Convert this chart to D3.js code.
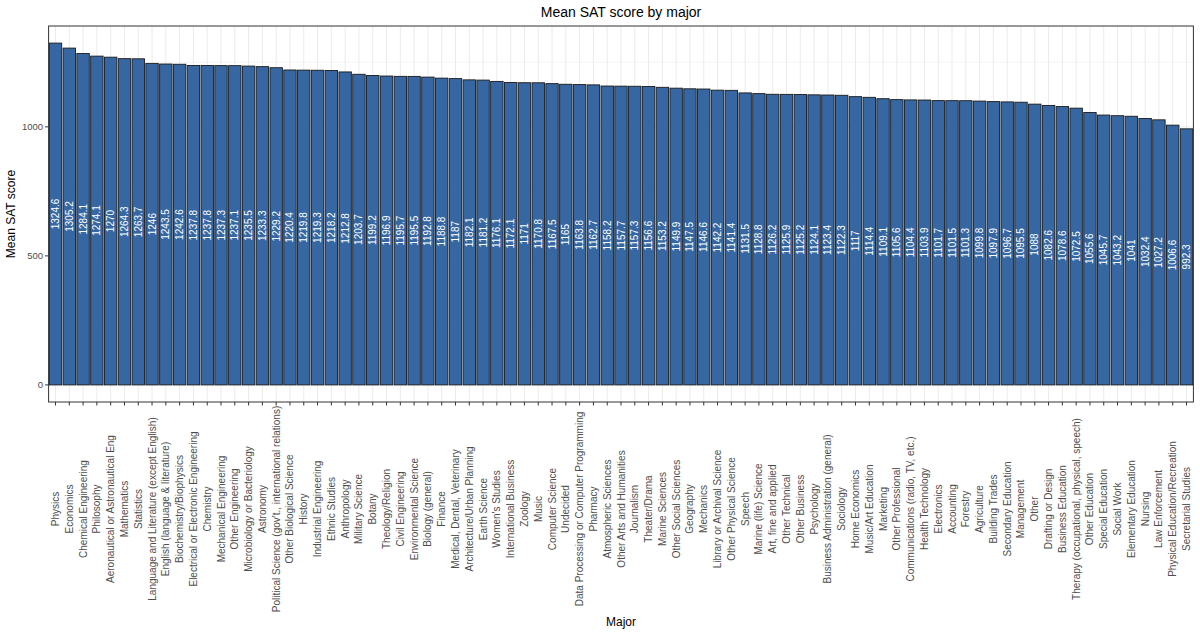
<!DOCTYPE html>
<html>
<head>
<meta charset="utf-8">
<script src="https://cdn.jsdelivr.net/npm/d3@7"></script>
<style>
  body { margin: 0; background: #fff; }
  text { font-family: "Liberation Sans", Arial, sans-serif; }
</style>
</head>
<body>
<div id="chart"></div>
<script>
// Data: majors sorted by mean SAT score
let majors = ["Physics", "Economics", "Chemical Engineering", "Philosophy", "Aeronautical or Astronautical Eng",
  "Mathematics", "Statistics", "Language and Literature (except English)", "English (language & literature)",
  "Biochemistry/Biophysics", "Electrical or Electronic Engineering", "Chemistry", "Mechanical Engineering",
  "Other Engineering", "Microbiology or Bacteriology", "Astronomy", "Political Science (gov't., international relations)",
  "Other Biological Science", "History", "Industrial Engineering", "Ethnic Studies", "Anthropology",
  "Military Science", "Botany", "Theology/Religion", "Civil Engineering", "Environmental Science",
  "Biology (general)", "Finance", "Medical, Dental, Veterinary", "Architecture/Urban Planning", "Earth Science",
  "Women's Studies", "International Business", "Zoology", "Music", "Computer Science", "Undecided",
  "Data Processing or Computer Programming", "Pharmacy", "Atmospheric Sciences", "Other Arts and Humanities",
  "Journalism", "Theater/Drama", "Marine Sciences", "Other Social Sciences", "Geography", "Mechanics",
  "Library or Archival Science", "Other Physical Science", "Speech", "Marine (life) Science",
  "Art, fine and applied", "Other Technical", "Other Business", "Psychology", "Business Administration (general)",
  "Sociology", "Home Economics", "Music/Art Education", "Marketing", "Other Professional",
  "Communications (radio, TV, etc.)", "Health Technology", "Electronics", "Accounting", "Forestry",
  "Agriculture", "Building Trades", "Secondary Education", "Management", "Other", "Drafting or Design",
  "Business Education", "Therapy (occupational, physical, speech)", "Other Education", "Special Education",
  "Social Work", "Elementary Education", "Nursing", "Law Enforcement", "Physical Education/Recreation",
  "Secretarial Studies"]

let meanSAT = [1324.6, 1305.2, 1284.1, 1274.1, 1270, 1264.3, 1263.7, 1246, 1243.5, 1242.6,
  1237.8, 1237.8, 1237.3, 1237.1, 1235.5, 1233.3, 1229.2, 1220.4, 1219.8, 1219.3,
  1218.2, 1212.8, 1203.7, 1199.2, 1196.9, 1195.7, 1195.5, 1192.8, 1188.8, 1187,
  1182.1, 1181.2, 1176.1, 1172.1, 1171, 1170.8, 1167.5, 1165, 1163.8, 1162.7,
  1158.2, 1157.7, 1157.3, 1156.6, 1153.2, 1149.9, 1147.5, 1146.6, 1142.2, 1141.4,
  1131.5, 1128.8, 1126.2, 1125.9, 1125.2, 1124.1, 1123.4, 1122.3, 1117, 1114.4,
  1109.1, 1105.6, 1104.4, 1103.9, 1101.7, 1101.5, 1101.3, 1099.8, 1097.9, 1096.7,
  1095.5, 1088, 1082.6, 1078.6, 1072.5, 1055.6, 1045.7, 1043.2, 1041, 1032.4,
  1027.2, 1006.6, 992.3]

let yTicks = [0, 500, 1000]
let yMinor = [250, 750, 1250]

let data = majors.map((m, i) => ({major: m, value: meanSAT[i]}))

// Setup
let W = 1200, H = 634
let pLeft = 48.6, pRight = 1193.4, pTop = 26, pBottom = 402

let svg = d3.select("#chart").append("svg")
  .attr("width", W)
  .attr("height", H)

let yMax = d3.max(meanSAT)
let pad = yMax * 0.05

let x = d3.scaleBand().domain(majors).range([pLeft, pRight]).paddingInner(0.1).paddingOuter(0.05)
let xc = d3.scalePoint().domain(majors).range([pLeft, pRight]).padding(0.5)
let y = d3.scaleLinear().domain([-pad, yMax + pad]).range([pBottom, pTop])

// panel grid
let grid = svg.append("g")
grid.selectAll(".minor").data(yMinor).enter().append("line")
  .attr("x1", pLeft).attr("x2", pRight)
  .attr("y1", d => y(d)).attr("y2", d => y(d))
  .attr("stroke", "#f2f2f2").attr("stroke-width", 0.6)
grid.selectAll(".major").data(yTicks).enter().append("line")
  .attr("x1", pLeft).attr("x2", pRight)
  .attr("y1", d => y(d)).attr("y2", d => y(d))
  .attr("stroke", "#ebebeb").attr("stroke-width", 1)
grid.selectAll(".vmajor").data(majors).enter().append("line")
  .attr("x1", d => xc(d)).attr("x2", d => xc(d))
  .attr("y1", pTop).attr("y2", pBottom)
  .attr("stroke", "#ebebeb").attr("stroke-width", 1)

// bars
svg.append("g").selectAll("rect")
  .data(data)
  .enter()
  .append("rect")
  .attr("x", d => xc(d.major) - x.bandwidth() / 2)
  .attr("y", d => y(d.value))
  .attr("width", x.bandwidth())
  .attr("height", d => y(0) - y(d.value))
  .attr("fill", "#3767a2")
  .attr("stroke", "#1a1a1a")
  .attr("stroke-width", 0.9)

// value labels at half height
svg.append("g").selectAll("text")
  .data(data)
  .enter()
  .append("text")
  .attr("transform", d => `translate(${xc(d.major)},${y(d.value / 2)}) rotate(-90)`)
  .attr("text-anchor", "middle")
  .attr("dy", "0.35em")
  .attr("fill", "#ffffff")
  .style("font-size", "10px")
  .text(d => d.value)

// panel border
svg.append("rect")
  .attr("x", pLeft).attr("y", pTop)
  .attr("width", pRight - pLeft).attr("height", pBottom - pTop)
  .attr("fill", "none").attr("stroke", "#333333").attr("stroke-width", 1)

// y axis
let yAxis = svg.append("g")
yAxis.selectAll("line").data(yTicks).enter().append("line")
  .attr("x1", pLeft - 3.5).attr("x2", pLeft)
  .attr("y1", d => y(d)).attr("y2", d => y(d))
  .attr("stroke", "#333333")
yAxis.selectAll("text").data(yTicks).enter().append("text")
  .attr("x", pLeft - 5.5).attr("y", d => y(d))
  .attr("dy", "0.35em")
  .attr("text-anchor", "end")
  .attr("fill", "#4d4d4d")
  .style("font-size", "9.5px")
  .text(d => d)

// x axis
let xAxis = svg.append("g")
xAxis.selectAll("line").data(majors).enter().append("line")
  .attr("x1", d => xc(d)).attr("x2", d => xc(d))
  .attr("y1", pBottom).attr("y2", pBottom + 3.5)
  .attr("stroke", "#333333")
xAxis.selectAll("text").data(majors).enter().append("text")
  .attr("transform", d => `translate(${xc(d)},509) rotate(-90)`)
  .attr("text-anchor", "middle")
  .attr("dy", "0.35em")
  .attr("fill", "#4d4d4d")
  .style("font-size", "10px")
  .text(d => d)

// titles
svg.append("text")
  .attr("x", (pLeft + pRight) / 2).attr("y", 17)
  .attr("text-anchor", "middle")
  .attr("fill", "#000")
  .style("font-size", "14px")
  .text("Mean SAT score by major")

svg.append("text")
  .attr("transform", `translate(15,${(pTop + pBottom) / 2}) rotate(-90)`)
  .attr("text-anchor", "middle")
  .attr("fill", "#000")
  .style("font-size", "12px")
  .text("Mean SAT score")

svg.append("text")
  .attr("x", (pLeft + pRight) / 2).attr("y", 626)
  .attr("text-anchor", "middle")
  .attr("fill", "#000")
  .style("font-size", "12px")
  .text("Major")
</script>
</body>
</html>
